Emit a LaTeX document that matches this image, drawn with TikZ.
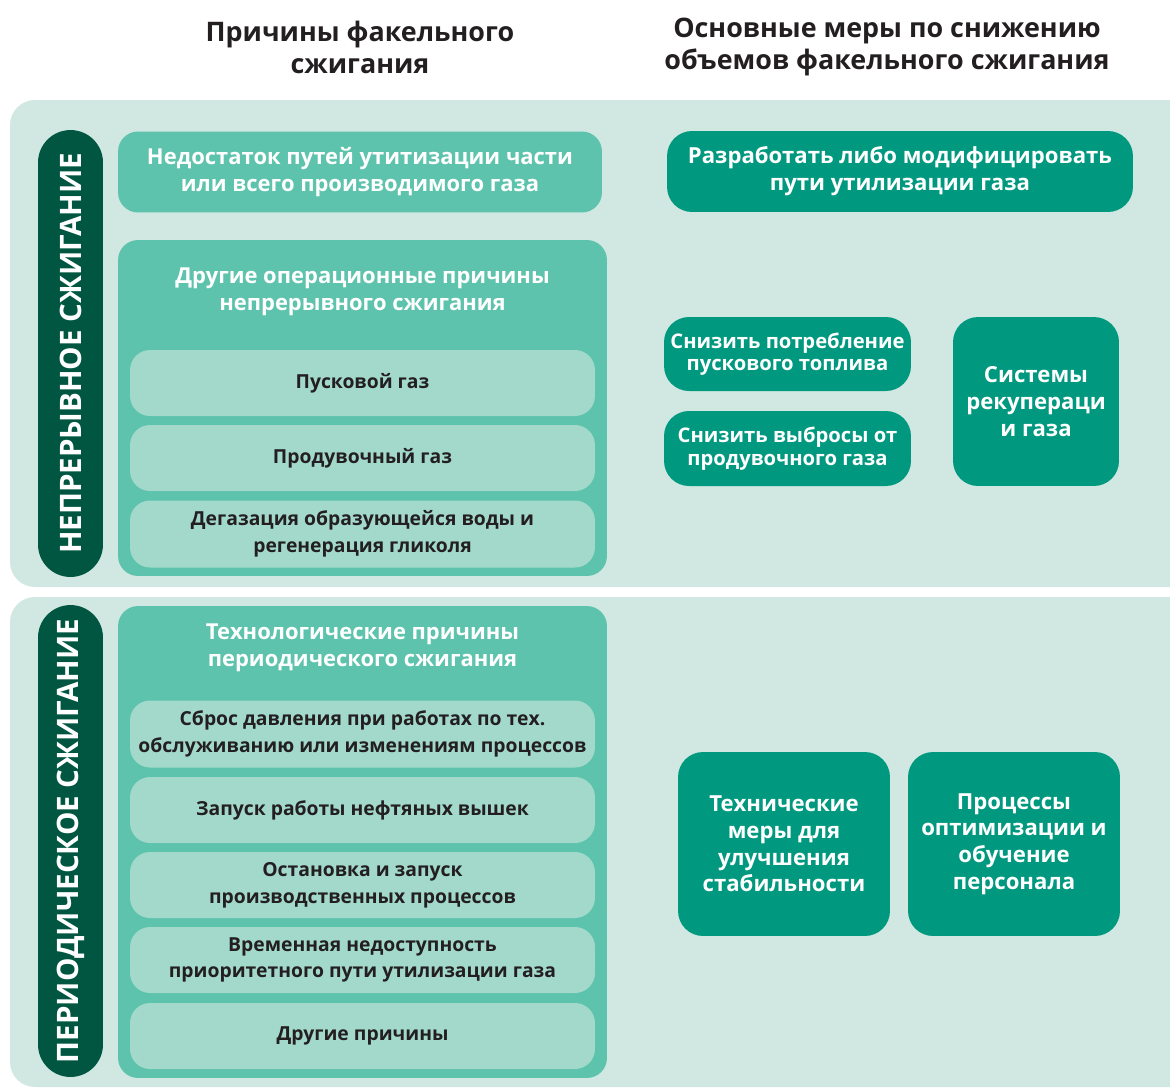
\documentclass[tikz,border=0pt]{standalone}
\usepackage{fontspec}
\setmainfont{Open Sans}
\usetikzlibrary{positioning}
\definecolor{panelbg}{HTML}{D0E8E1}
\definecolor{midgreen}{HTML}{5DC3AD}
\definecolor{lightgreen}{HTML}{A3D9CB}
\definecolor{measuregreen}{HTML}{009980}
\definecolor{darkteal}{HTML}{005641}
\definecolor{inktext}{HTML}{231F20}
\tikzset{
  panel/.style={fill=panelbg, rounded corners=0.5cm},
  headline/.style={text=inktext, align=center, font=\bfseries\fontsize{15.3}{18.2}\selectfont},
  sidebar/.style={fill=darkteal, rounded corners=0.65cm, text=white, rotate=90, inner sep=0pt,
    minimum height=1.3cm, font=\bfseries\fontsize{16.8}{20}\selectfont},
  causebox/.style={fill=midgreen, rounded corners=0.4cm, text=white, align=center, inner sep=0pt,
    font=\bfseries\fontsize{12.5}{15.2}\selectfont},
  subbox/.style={fill=lightgreen, rounded corners=0.4cm, text=inktext, align=center, inner sep=0pt,
    minimum width=9.3cm, minimum height=1.32cm, font=\bfseries\fontsize{11}{15.2}\selectfont},
  measurebox/.style={fill=measuregreen, rounded corners=0.5cm, text=white, align=center, inner sep=0pt,
    font=\bfseries\fontsize{12.6}{15.2}\selectfont},
}
\begin{document}
\begin{tikzpicture}[x=0.02cm, y=-0.02cm]
  \useasboundingbox (0,0) rectangle (1170,1089);
  \clip (0,0) rectangle (1170,1089);

  % headings
  \node[headline] (hcause) at (360,47) {Причины факельного\\сжигания};
  \node[headline] (hmeasure) at (887,47) {Основные меры по снижению\\объемов факельного сжигания};

  % background panels
  \fill[panel] (10,100) rectangle (1195,587);
  \fill[panel] (10,597) rectangle (1195,1087);

  %%%%% continuous flaring %%%%%
  \node[sidebar, minimum width=8.94cm] (contbar) at (70.5,353.5) {НЕПРЕРЫВНОЕ СЖИГАНИЕ};

  \node[causebox, minimum width=9.68cm, minimum height=1.62cm] (lack) at (360,172)
    {Недостаток путей утитизации части\\или всего производимого газа};

  \node[causebox, minimum width=9.78cm, minimum height=6.72cm] (operbox) at (362.5,408) {};
  \node[causebox, fill=none] (opertitle) at (362.5,292) {Другие операционные причины\\непрерывного сжигания};
  \node[subbox] (startgas) at (362.5,383) {Пусковой газ};
  \node[subbox] (purgegas) at (362.5,458) {Продувочный газ};
  \node[subbox, minimum height=1.34cm] (degas) at (362.5,534)
    {Дегазация образующейся воды и\\регенерация гликоля};

  \node[measurebox, minimum width=9.32cm, minimum height=1.62cm] (develop) at (900,171.5)
    {Разработать либо модифицировать\\пути утилизации газа};
  \node[measurebox, minimum width=4.94cm, minimum height=1.48cm,
    font=\bfseries\fontsize{11.5}{12.8}\selectfont] (fuel) at (787.5,354)
    {Снизить потребление\\пускового топлива};
  \node[measurebox, minimum width=4.94cm, minimum height=1.5cm,
    font=\bfseries\fontsize{11.5}{12.8}\selectfont] (purgecut) at (787.5,448.5)
    {Снизить выбросы от\\продувочного газа};
  \node[measurebox, minimum width=3.32cm, minimum height=3.38cm] (recovery) at (1036,401.5)
    {Системы\\рекупераци\\и газа};

  %%%%% periodic flaring %%%%%
  \node[sidebar, minimum width=9.44cm] (perbar) at (70.5,841) {ПЕРИОДИЧЕСКОЕ СЖИГАНИЕ};

  \node[causebox, minimum width=9.78cm, minimum height=9.44cm] (techbox) at (362.5,842) {};
  \node[causebox, fill=none] (techtitle) at (362.5,648) {Технологические причины\\периодического сжигания};
  \node[subbox, minimum height=1.34cm] (pressure) at (362.5,734)
    {Сброс давления при работах по тех.\\обслуживанию или изменениям процессов};
  \node[subbox] (rigs) at (362.5,810) {Запуск работы нефтяных вышек};
  \node[subbox] (restart) at (362.5,885) {Остановка и запуск\\производственных процессов};
  \node[subbox] (unavail) at (362.5,960) {Временная недоступность\\приоритетного пути утилизации газа};
  \node[subbox] (other) at (362.5,1036) {Другие причины};

  \node[measurebox, minimum width=4.24cm, minimum height=3.68cm] (stability) at (784,844)
    {Технические\\меры для\\улучшения\\стабильности};
  \node[measurebox, minimum width=4.24cm, minimum height=3.68cm] (training) at (1014,844)
    {Процессы\\оптимизации и\\обучение\\персонала};
\end{tikzpicture}
\end{document}
